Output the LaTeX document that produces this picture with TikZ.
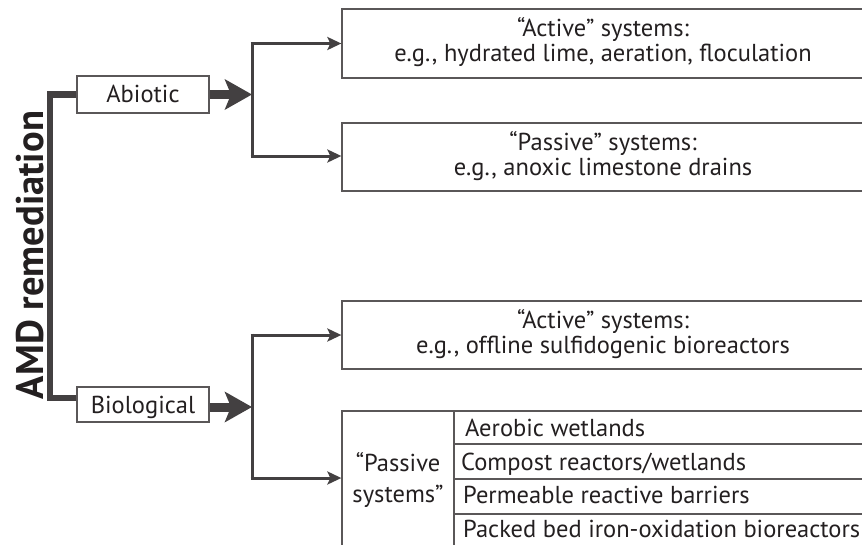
\documentclass[tikz,border=0pt]{standalone}
\usepackage{fontspec}
\setmainfont{PT Sans}
\usetikzlibrary{arrows.meta,calc}
\definecolor{ink}{HTML}{231F20}
\definecolor{linec}{HTML}{434041}
\definecolor{boxc}{HTML}{5A5758}
\tikzset{
  box/.style={draw=boxc, line width=1.3pt, rectangle, inner sep=0pt},
  lbl/.style={text=ink, font=\fontsize{24.5}{25}\selectfont, inner sep=0pt, anchor=base},
  big/.style={text=ink, font=\fontsize{24.5}{25}\selectfont, inner sep=0pt},
  thin arrow/.style={draw=linec, line width=3pt, -{Stealth[length=14pt,width=13pt,inset=3pt]}},
  thick arrow/.style={draw=linec, line width=9pt, -{Stealth[length=27pt,width=30pt,inset=6pt]}},
  bracket/.style={draw=linec, line width=3pt},
  mainbar/.style={draw=linec, line width=6.5pt, line join=miter},
  rule/.style={draw=boxc, line width=1.3pt},
}
\begin{document}
\begin{tikzpicture}[x=1pt,y=-1pt]
\useasboundingbox (0,0) rectangle (862,544);
\clip (0,0) rectangle (862,544);
% title
\node[rotate=90, anchor=base, text=ink, font=\fontsize{38.5}{40}\selectfont\bfseries, inner sep=0pt] (title) at (43,255) {AMD remediation};
% first level boxes
\node[box, big, minimum width=132pt, minimum height=37pt, text height=16.4pt, text depth=0pt] (abiotic) at (143,94.5) {Abiotic};
\node[box, big, minimum width=132pt, minimum height=35pt, text height=18pt, text depth=0pt] (bio) at (143,404.5) {Biological};
% right boxes
\node[box, minimum width=522pt, minimum height=69pt] (aact) at (603,43.5) {};
\node[lbl] (aact1) at (603,36) {“Active” systems:};
\node[lbl] (aact2) at (603,61) {e.g., hydrated lime, aeration, floculation};
\node[box, minimum width=522pt, minimum height=68pt] (apas) at (603,157) {};
\node[lbl] (apas1) at (603,150) {“Passive” systems:};
\node[lbl] (apas2) at (603,175) {e.g., anoxic limestone drains};
\node[box, minimum width=522pt, minimum height=68pt] (bact) at (603,335) {};
\node[lbl] (bact1) at (603,328) {“Active” systems:};
\node[lbl] (bact2) at (603,353) {e.g., offline sulfidogenic bioreactors};
\node[box, minimum width=522pt, minimum height=138pt] (bpas) at (603,480) {};
% passive table
\coordinate (div) at (454,411);
\draw[rule] (div) -- (454,549);
\draw[rule] (454,444) -- (864,444);
\draw[rule] (454,479) -- (864,479);
\draw[rule] (454,514) -- (864,514);
\node[big, anchor=base] (plabel1) at (398,471) {“Passive};
\node[big, anchor=base] (plabel2) at (398,502) {systems”};
\node[big, anchor=base west] (r1) at (465,436) {Aerobic wetlands};
\node[big, anchor=base west] (r2) at (461,470) {Compost reactors/wetlands};
\node[big, anchor=base west] (r3) at (463,503) {Permeable reactive barriers};
\node[big, anchor=base west] (r4) at (463,537) {Packed bed iron-oxidation bioreactors};
% main bar
\draw[mainbar] (abiotic.west) -- (50,94.5) -- (50,398) -- ($(bio.west)+(0,-6.5)$);
% junctions
\coordinate (j1) at (252,94.5);
\coordinate (j2) at (252,407);
\draw[thick arrow] (abiotic.east) -- (j1);
\draw[thick arrow] ($(bio.east)+(0,2.5)$) -- (j2);
% brackets
\coordinate (b1t) at (252,43.5);
\coordinate (b1b) at (252,156);
\coordinate (b2t) at (252,335);
\coordinate (b2b) at (252,478);
\draw[bracket] ([yshift=1.5pt]b1t) -- ([yshift=-1.5pt]b1b);
\draw[bracket] ([yshift=1.5pt]b2t) -- ([yshift=-1.5pt]b2b);
\draw[thin arrow] ([xshift=-1.5pt]b1t) -- (aact.west);
\draw[thin arrow] ([xshift=-1.5pt]b1b) -- (apas.west |- b1b);
\draw[thin arrow] ([xshift=-1.5pt]b2t) -- (bact.west);
\draw[thin arrow] ([xshift=-1.5pt]b2b) -- (bpas.west |- b2b);
\end{tikzpicture}
\end{document}
